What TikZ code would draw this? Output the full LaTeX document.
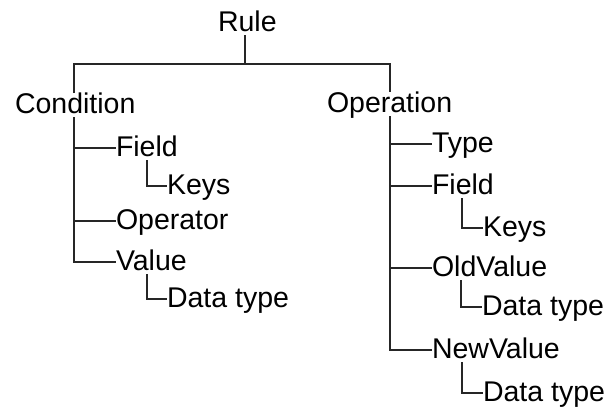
\documentclass[tikz,border=0pt]{standalone}
\usepackage{fontspec}
\setmainfont{Liberation Sans}
\begin{document}
\begin{tikzpicture}[x=1pt,y=-1pt,
  lbl/.style={anchor=west,inner sep=0pt,outer sep=0pt,text height=20pt,text depth=4pt,
    font=\fontsize{28.5}{30}\selectfont,text=black},
  conn/.style={line width=1.3pt,draw=black!85}]
\useasboundingbox (0,0) rectangle (609,410);
% nodes
\node[lbl] (rule) at (218,23) {Rule};
\node[lbl] (cond) at (15,105) {Condition};
\node[lbl] (oper) at (327,104) {Operation};
\node[lbl] (cfield) at (116,148) {Field};
\node[lbl] (ckeys) at (167,186) {Keys};
\node[lbl] (cop) at (116,221) {Operator};
\node[lbl] (cval) at (116,262) {Value};
\node[lbl] (cdt) at (167,299) {Data type};
\node[lbl] (otype) at (432,144) {Type};
\node[lbl] (ofield) at (432,186) {Field};
\node[lbl] (okeys) at (483,228) {Keys};
\node[lbl] (oold) at (432,268) {OldValue};
\node[lbl] (odta) at (482,307) {Data type};
\node[lbl] (onew) at (432,350) {NewValue};
\node[lbl] (odtb) at (483,393) {Data type};
% bus
\coordinate (bus) at (245,64);
\coordinate (busL) at (74,64);
\coordinate (busR) at (390,64);
\draw[conn] (rule.south -| bus) -- (bus);
\draw[conn] (busL |- cond.north) -- (busL) -- (busR) -- (busR |- oper.north);
% left subtree
\draw[conn] (busL |- cond.south) |- (cval.west);
\draw[conn] (busL |- cfield.west) -- (cfield.west);
\draw[conn] (busL |- cop.west) -- (cop.west);
\draw[conn] ([xshift=31pt]cfield.south west) |- (ckeys.west);
\draw[conn] ([xshift=31pt]cval.south west) |- (cdt.west);
% right subtree
\draw[conn] (busR |- oper.south) |- (onew.west);
\draw[conn] (busR |- otype.west) -- (otype.west);
\draw[conn] (busR |- ofield.west) -- (ofield.west);
\draw[conn] (busR |- oold.west) -- (oold.west);
\draw[conn] ([xshift=30pt]ofield.south west) |- (okeys.west);
\draw[conn] ([xshift=29pt]oold.south west) |- (odta.west);
\draw[conn] ([xshift=30pt]onew.south west) |- (odtb.west);
\end{tikzpicture}
\end{document}
